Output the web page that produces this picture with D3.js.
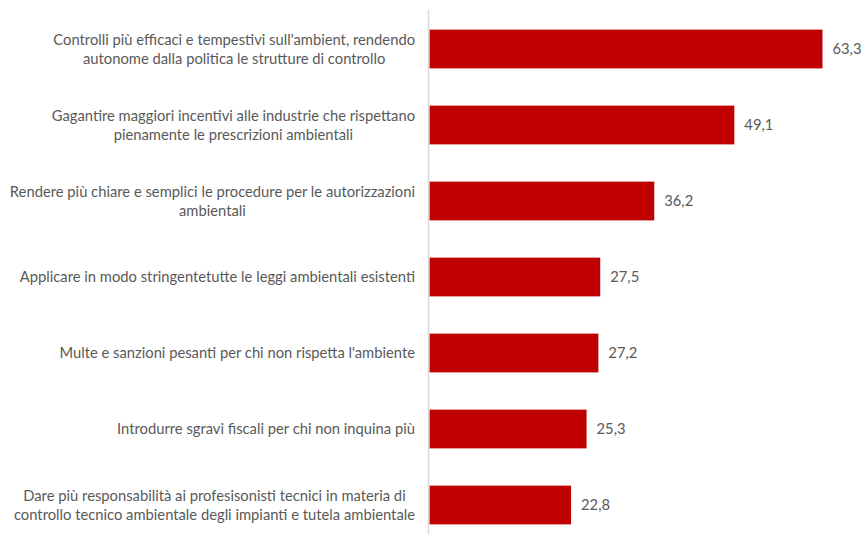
<!DOCTYPE html>
<html>
<head>
<meta charset="utf-8">
<script src="https://cdn.jsdelivr.net/npm/d3@7"></script>
<style>
  body { margin: 0; background: #fff; }
  text { font-family: Lato, "Open Sans", sans-serif; fill: #595959; }
</style>
</head>
<body>
<script>
// categories (line breaks as in the original)
var categories = [
    "Controlli più efficaci e tempestivi sull'ambient, rendendo\nautonome dalla politica le strutture di controllo",
    "Gagantire maggiori incentivi alle industrie che rispettano\npienamente le prescrizioni ambientali",
    "Rendere più chiare e semplici le procedure per le autorizzazioni\nambientali",
    "Applicare in modo stringentetutte le leggi ambientali esistenti",
    "Multe e sanzioni pesanti per chi non rispetta l'ambiente",
    "Introdurre sgravi fiscali per chi non inquina più",
    "Dare più responsabilità ai profesisonisti tecnici in materia di\ncontrollo tecnico ambientale degli impianti e tutela ambientale"
];
var values = [63.3, 49.1, 36.2, 27.5, 27.2, 25.3, 22.8];
var valueLabels = ["63,3", "49,1", "36,2", "27,5", "27,2", "25,3", "22,8"];

var width = 862,
    height = 534,
    axisX = 429.5,
    labelRight = 415,
    fontSize = "14.75px";

var svg = d3.select("body")
    .append("svg")
    .attr("width", width)
    .attr("height", height);

var x = d3.scaleLinear()
    .domain([0, 63.3])
    .range([axisX, 822.5]);

var y = d3.scaleBand()
    .domain(d3.range(categories.length))
    .range([11, 11 + 76 * categories.length])
    .paddingInner(0.49)
    .paddingOuter(0.245);

// bars
svg.selectAll("rect.bar")
    .data(values)
    .enter()
    .append("rect")
    .attr("class", "bar")
    .attr("x", x(0))
    .attr("y", function (d, i) { return y(i); })
    .attr("width", function (d) { return x(d) - x(0); })
    .attr("height", y.bandwidth())
    .attr("fill", "#C00000");

// axis line
svg.append("line")
    .attr("x1", axisX - 1)
    .attr("x2", axisX - 1)
    .attr("y1", 10)
    .attr("y2", height)
    .attr("stroke", "#d9d9d9")
    .attr("stroke-width", 1.5);

// value labels
svg.selectAll("text.value")
    .data(values)
    .enter()
    .append("text")
    .attr("class", "value")
    .attr("x", function (d) { return x(d) + 10; })
    .attr("y", function (d, i) { return y(i) + y.bandwidth() / 2; })
    .attr("dy", "0.35em")
    .style("font-size", fontSize)
    .text(function (d, i) { return valueLabels[i]; });

// category labels, centred block, right aligned
var lineH = 19;
categories.forEach(function (c, i) {
    var lines = c.split("\n");
    var g = svg.append("g");
    var cy = y(i) + y.bandwidth() / 2;
    var texts = lines.map(function (l, j) {
        return g.append("text")
            .attr("y", cy + (j - (lines.length - 1) / 2) * lineH)
            .attr("dy", "0.35em")
            .style("font-size", fontSize)
            .style("text-anchor", "middle")
            .text(l);
    });
    var maxW = d3.max(texts, function (t) { return t.node().getComputedTextLength(); });
    texts.forEach(function (t) { t.attr("x", labelRight - maxW / 2); });
});
</script>
</body>
</html>
